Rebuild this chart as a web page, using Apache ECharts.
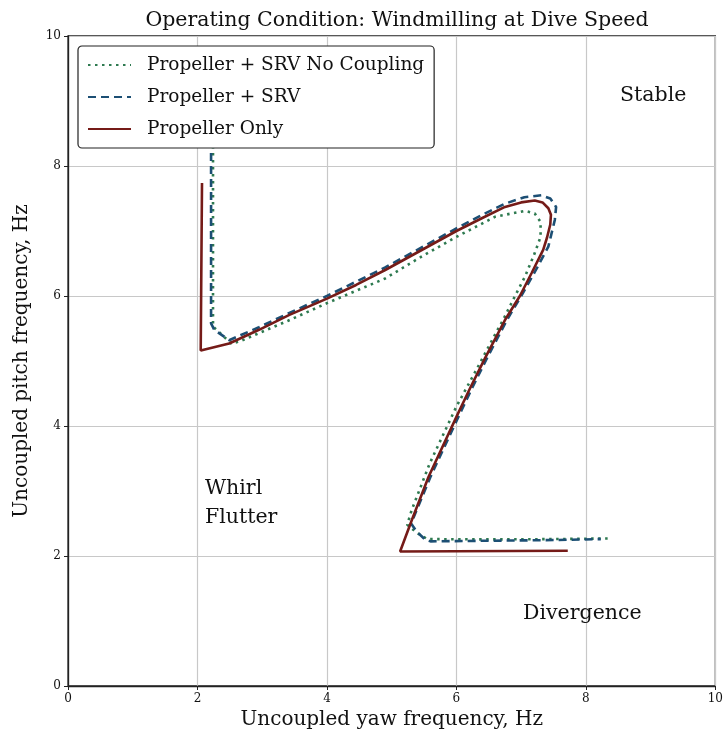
<!DOCTYPE html>
<html>
<head>
<meta charset="utf-8">
<script src="https://cdn.jsdelivr.net/npm/echarts@6/dist/echarts.min.js"></script>
<style>html,body{margin:0;padding:0;background:#fff}#c{width:726px;height:742px}</style>
</head>
<body>
<div id="c"></div>
<script>
// Data
const titleText = 'Operating Condition: Windmilling at Dive Speed';
const xAxisName = 'Uncoupled yaw frequency, Hz';
const yAxisName = 'Uncoupled pitch frequency, Hz';
const seriesNames = ['Propeller + SRV No Coupling', 'Propeller + SRV', 'Propeller Only'];
const xTicks = [0, 2, 4, 6, 8, 10];
const yTicks = [0, 2, 4, 6, 8, 10];

const noCouplingX = [2.24, 2.24, 2.52, 2.65, 3.40, 4.00, 4.90, 5.45, 6.00, 6.60, 7.06, 7.21, 7.30, 7.30, 7.21, 7.06, 6.90, 6.72, 6.62, 6.30, 6.00, 5.59, 5.31, 5.24, 5.40, 5.55, 6.50, 7.50, 8.37];
const noCouplingY = [9.60, 5.53, 5.27, 5.30, 5.62, 5.89, 6.27, 6.60, 6.91, 7.22, 7.31, 7.27, 7.14, 6.91, 6.66, 6.30, 5.99, 5.63, 5.45, 4.85, 4.30, 3.43, 2.71, 2.48, 2.35, 2.26, 2.255, 2.26, 2.27];

const srvX = [2.21, 2.21, 2.26, 2.49, 2.95, 3.42, 4.00, 4.90, 5.45, 6.00, 6.40, 6.75, 7.05, 7.31, 7.45, 7.54, 7.52, 7.42, 7.20, 7.00, 6.78, 6.47, 6.25, 6.03, 5.60, 5.30, 5.39, 5.52, 5.60, 6.50, 7.50, 8.23];
const srvY = [9.60, 5.58, 5.48, 5.32, 5.52, 5.74, 6.00, 6.44, 6.74, 7.04, 7.25, 7.42, 7.52, 7.55, 7.50, 7.37, 7.17, 6.76, 6.35, 6.00, 5.63, 5.04, 4.60, 4.14, 3.22, 2.50, 2.37, 2.25, 2.225, 2.235, 2.245, 2.26];

const propOnlyX = [2.07, 2.05, 2.49, 2.95, 3.42, 4.00, 4.45, 4.90, 5.45, 6.00, 6.40, 6.75, 7.00, 7.21, 7.33, 7.42, 7.46, 7.45, 7.40, 7.34, 7.16, 6.98, 6.75, 6.44, 6.22, 6.00, 5.57, 5.31, 5.13, 7.72];
const propOnlyY = [7.74, 5.16, 5.27, 5.48, 5.71, 5.96, 6.17, 6.40, 6.70, 7.00, 7.20, 7.37, 7.44, 7.47, 7.44, 7.35, 7.25, 7.10, 6.90, 6.71, 6.35, 6.00, 5.63, 5.04, 4.60, 4.14, 3.22, 2.55, 2.07, 2.08];

const regionLabels = ['Stable', 'Whirl\nFlutter', 'Divergence'];

function pairs(xs, ys) { return xs.map((x, i) => [x, ys[i]]); }

const FONT = 'DejaVu Serif';
const chart = echarts.init(document.getElementById('c'), null, { renderer: 'canvas' });

const colors = ['#2e7a50', '#1c4f74', '#751b18'];

chart.setOption({
  animation: false,
  backgroundColor: '#ffffff',
  title: {
    text: titleText,
    left: 392, top: 5, textAlign: 'center',
    textStyle: { fontFamily: FONT, fontSize: 20.5, fontWeight: 'normal', color: '#111' }
  },
  grid: {
    left: 68, right: 9, top: 36, bottom: 56,
    show: true, borderColor: '#222', borderWidth: 1.3, backgroundColor: 'transparent'
  },
  legend: {
    orient: 'vertical',
    left: 78, top: 46, z: 20,
    padding: [8, 10, 8, 9],
    itemWidth: 43, itemHeight: 14,
    itemGap: 10,
    backgroundColor: '#ffffff',
    borderColor: '#222', borderWidth: 1.2, borderRadius: 4,
    itemStyle: { opacity: 0 },
    textStyle: { fontFamily: FONT, fontSize: 18.5, color: '#111', lineHeight: 22, padding: [0, 0, 0, 11] },
    data: seriesNames
  },
  xAxis: {
    type: 'value', min: 0, max: 10, interval: 2,
    name: xAxisName, nameLocation: 'middle', nameGap: 21,
    nameTextStyle: { fontFamily: FONT, fontSize: 20, color: '#111' },
    axisLine: { show: true, onZero: false, lineStyle: { color: '#222', width: 1.3 } },
    axisTick: { show: true, length: 4, lineStyle: { color: '#222', width: 1 } },
    axisLabel: { fontFamily: FONT, fontSize: 12, color: '#111', margin: 7,
      formatter: v => xTicks.includes(v) ? String(v) : '' },
    splitLine: { show: true, lineStyle: { color: '#c8c8c8', width: 1.2 } }
  },
  yAxis: {
    type: 'value', min: 0, max: 10, interval: 2,
    name: yAxisName, nameLocation: 'middle', nameGap: 36, nameRotate: 90,
    nameTextStyle: { fontFamily: FONT, fontSize: 20, color: '#111' },
    axisLine: { show: true, onZero: false, lineStyle: { color: '#222', width: 1.3 } },
    axisTick: { show: true, length: 4, lineStyle: { color: '#222', width: 1 } },
    axisLabel: { fontFamily: FONT, fontSize: 12, color: '#111', margin: 7,
      formatter: v => yTicks.includes(v) ? String(v) : '' },
    splitLine: { show: true, lineStyle: { color: '#c8c8c8', width: 1.2 } }
  },
  series: [
    {
      name: seriesNames[0], type: 'line', showSymbol: false, symbol: 'none', z: 2,
      data: pairs(noCouplingX, noCouplingY),
      lineStyle: { color: colors[0], width: 2.6, type: [2.5, 4.5], cap: 'butt' },
      itemStyle: { color: colors[0] }
    },
    {
      name: seriesNames[1], type: 'line', showSymbol: false, symbol: 'none', z: 2,
      data: pairs(srvX, srvY),
      lineStyle: { color: colors[1], width: 2.6, type: [8, 5], cap: 'butt' },
      itemStyle: { color: colors[1] }
    },
    {
      name: seriesNames[2], type: 'line', showSymbol: false, symbol: 'none', z: 2,
      data: pairs(propOnlyX, propOnlyY),
      lineStyle: { color: colors[2], width: 2.6, type: 'solid' },
      itemStyle: { color: colors[2] }
    }
  ],
  graphic: [
    { type: 'text', left: 620, top: 85, z: 10,
      style: { text: regionLabels[0], fontFamily: FONT, fontSize: 20.5, fill: '#111' } },
    { type: 'text', left: 205, top: 474, z: 10,
      style: { text: regionLabels[1], fontFamily: FONT, fontSize: 20.5, lineHeight: 29, fill: '#111' } },
    { type: 'text', left: 523, top: 603, z: 10,
      style: { text: regionLabels[2], fontFamily: FONT, fontSize: 20.5, fill: '#111' } }
  ]
});
</script>
</body>
</html>
